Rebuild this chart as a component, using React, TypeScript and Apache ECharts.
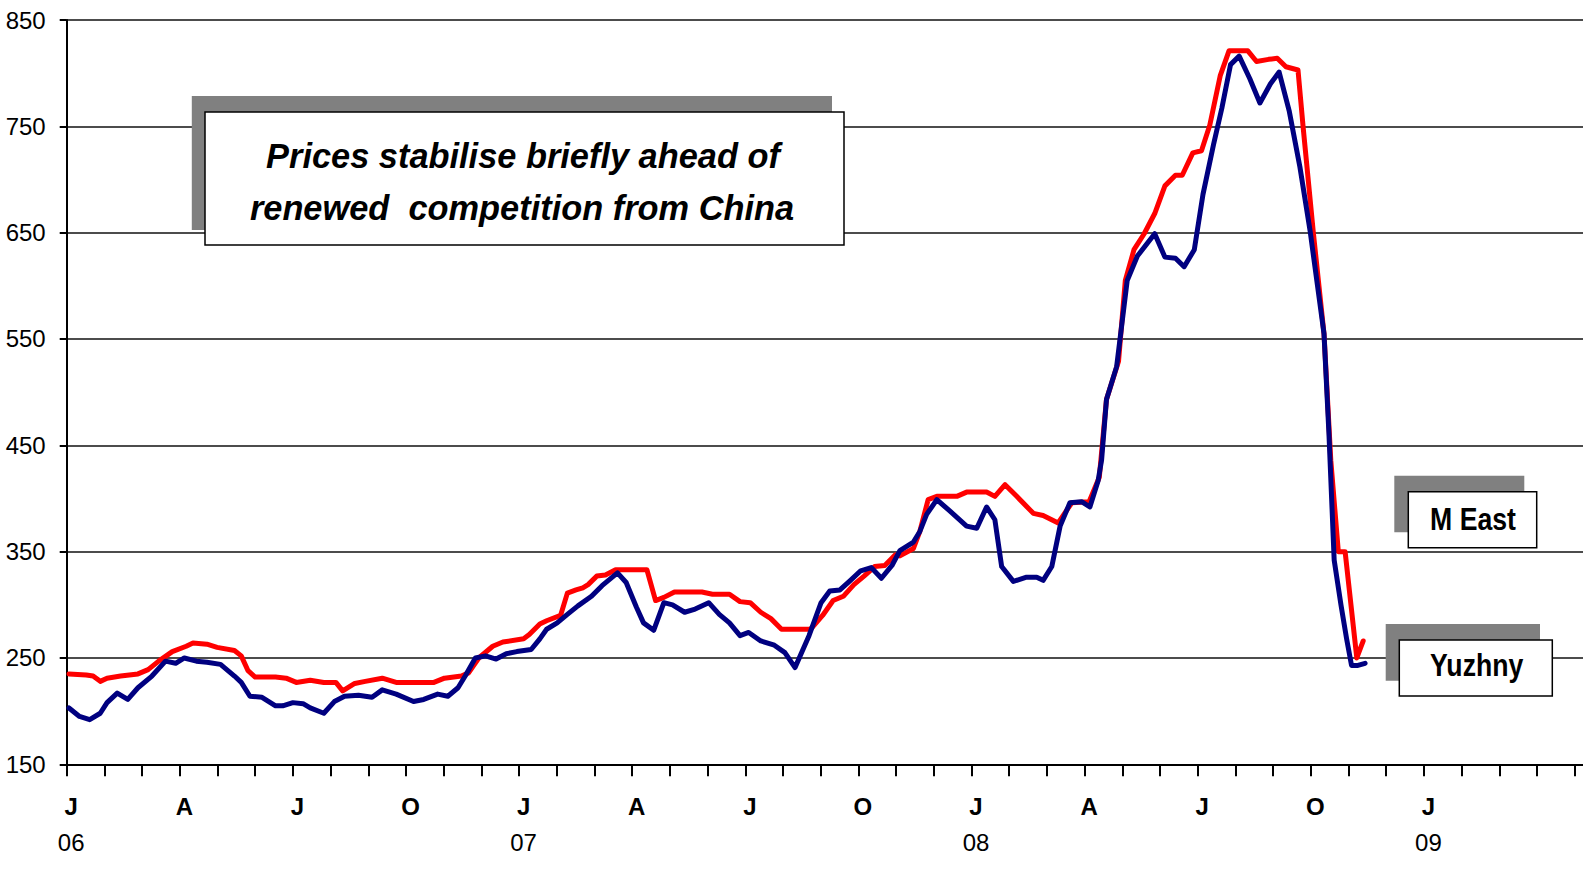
import { useEffect, useRef } from "react";
import * as echarts from "echarts";

// Weekly price readings, time expressed in months elapsed since January 2006
const monthsMEast = [
  0.06, 0.52, 0.7, 0.89, 1.07, 1.43, 1.89, 2.16, 2.44, 2.8, 3.17, 3.35, 3.72, 3.99, 4.45, 4.63, 4.81, 5.0,
  5.54, 5.82, 6.09, 6.46, 6.82, 7.14, 7.32, 7.64, 7.92, 8.37, 8.74, 9.2, 9.74, 10.02, 10.47, 10.66, 10.93,
  11.3, 11.57, 12.12, 12.27, 12.55, 12.73, 13.1, 13.28, 13.51, 13.69, 13.83, 14.06, 14.29, 14.56, 14.93,
  15.39, 15.62, 15.84, 16.12, 16.49, 16.85, 17.13, 17.58, 17.86, 18.13, 18.41, 18.68, 18.96, 19.32, 19.73,
  20.05, 20.33, 20.6, 20.88, 21.15, 21.43, 21.7, 21.98, 22.1, 22.46, 22.63, 22.85, 23.08, 23.61, 23.87,
  24.4, 24.62, 24.89, 25.2, 25.64, 25.9, 26.3, 26.66, 27.12, 27.39, 27.58, 27.9, 28.08, 28.31, 28.58,
  28.86, 29.13, 29.41, 29.59, 29.87, 30.1, 30.32, 30.6, 30.83, 31.33, 31.56, 31.88, 32.11, 32.34, 32.66,
  32.8, 33.07, 33.35, 33.53, 33.73, 33.91, 34.22, 34.39,
];
const pricesMEast = [
  235, 234, 233, 228, 231, 233, 235, 239, 247, 256, 261, 264, 263, 260, 257, 252, 238, 232,
  232, 231, 227, 229, 227, 227, 219, 226, 228, 231, 227, 227, 227, 231, 233, 236, 250,
  261, 265, 268, 272, 282, 285, 290, 311, 314, 316, 319, 327, 328, 333, 333,
  333, 304, 307, 312, 312, 312, 310, 310, 303, 302, 293, 287, 277, 277, 277,
  290, 304, 308, 319, 327, 336, 337, 347, 346, 353, 369, 399, 402, 402, 406,
  406, 402, 413, 402, 386, 384, 377, 396, 397, 420, 493, 529, 605, 634, 649,
  668, 694, 704, 704, 725, 727, 751, 798, 821, 821, 811, 813, 814, 806, 803,
  748, 649, 555, 436, 350, 350, 250, 266,
];

const monthsYuzhny = [
  0.06, 0.34, 0.61, 0.89, 1.07, 1.34, 1.62, 1.89, 2.26, 2.62, 2.89, 3.12, 3.44, 3.72, 4.08, 4.45, 4.63,
  4.86, 5.18, 5.54, 5.73, 6.0, 6.27, 6.46, 6.82, 7.1, 7.37, 7.74, 8.1, 8.37, 8.74, 9.2, 9.47, 9.84, 10.11,
  10.38, 10.57, 10.84, 11.11, 11.39, 11.66, 11.94, 12.32, 12.55, 12.73, 13.01, 13.28, 13.56, 13.92, 14.2,
  14.61, 14.84, 15.11, 15.3, 15.57, 15.84, 16.07, 16.39, 16.67, 17.03, 17.31, 17.58, 17.86, 18.09, 18.41,
  18.77, 19.05, 19.32, 19.69, 20.01, 20.24, 20.51, 20.79, 21.06, 21.34, 21.61, 21.89, 22.1, 22.46, 22.63,
  22.81, 23.08, 23.43, 23.87, 24.14, 24.4, 24.62, 24.8, 25.11, 25.46, 25.73, 25.9, 26.13, 26.35, 26.61,
  26.92, 27.14, 27.36, 27.45, 27.58, 27.85, 28.13, 28.4, 28.86, 29.13, 29.41, 29.64, 29.91, 30.14, 30.42,
  30.64, 30.87, 31.1, 31.38, 31.65, 31.93, 32.16, 32.43, 32.71, 32.98, 33.35, 33.48, 33.62, 33.8, 33.95,
  34.08, 34.25, 34.44,
];
const pricesYuzhny = [
  203, 195, 192, 198, 208, 217, 211, 222, 233, 247, 245, 250, 247, 246, 244, 233, 227,
  214, 213, 205, 205, 208, 207, 203, 198, 209, 214, 215, 213, 220, 216, 209, 211, 216, 214,
  222, 233, 250, 252, 249, 254, 256, 258, 268, 277, 283, 291, 299, 308, 318,
  330, 321, 298, 283, 276, 302, 300, 293, 296, 302, 291, 283, 271, 274, 266,
  262, 255, 241, 271, 302, 313, 314, 323, 332, 335, 325, 337, 351, 359, 369,
  385, 399, 388, 374, 372, 392, 380, 336, 322, 326, 326, 323, 336, 374, 396,
  397, 392, 417, 436, 493, 524, 605, 628, 649, 627, 626, 618, 634, 686, 733,
  767, 808, 816, 795, 772, 790, 801, 764, 712, 652, 555, 462, 342, 300, 268,
  243, 243, 245,
];

const priceTicks = [150, 250, 350, 450, 550, 650, 750, 850];
const quarterLetters = ["J", "A", "J", "O"];
const yearLabels = ["06", "07", "08", "09"];
const monthTicks = Array.from({ length: 41 }, (_, i) => i);
const quarterTicks = Array.from({ length: 13 }, (_, i) => i * 3);

const titleLines = ["Prices stabilise briefly ahead of", "renewed  competition from China"];
const seriesNames = ["M East", "Yuzhny"];

const FONT = "'Liberation Sans', Arial, Helvetica, sans-serif";

export default function App() {
  const ref = useRef<HTMLDivElement>(null);

  useEffect(() => {
    if (!ref.current) return;
    const chart = echarts.init(ref.current, undefined, { renderer: "svg" });

    // Series tag: grey offset shadow, white framed box, label text
    const tagBox = (
      shadow: [number, number, number, number],
      box: [number, number, number, number],
      label: string,
      cx: number,
      cy: number
    ) => [
      {
        type: "rect",
        shape: { x: shadow[0], y: shadow[1], width: shadow[2], height: shadow[3] },
        style: { fill: "#808080" },
        z: 10,
      },
      {
        type: "rect",
        shape: { x: box[0], y: box[1], width: box[2], height: box[3] },
        style: { fill: "#ffffff", stroke: "#000000", lineWidth: 1.5 },
        z: 11,
      },
      {
        type: "text",
        x: cx,
        y: cy,
        scaleX: 0.86,
        z: 12,
        style: {
          text: label,
          fill: "#000000",
          font: `bold 31px ${FONT}`,
          textAlign: "center",
          textVerticalAlign: "middle",
        },
      },
    ];

    chart.setOption({
      animation: false,
      backgroundColor: "#ffffff",
      grid: { left: 66.7, top: 20, right: 0, bottom: 106.7, containLabel: false },
      xAxis: {
        type: "value",
        min: 0,
        max: 40.22,
        axisLine: { show: true, onZero: false, lineStyle: { color: "#000000", width: 2 } },
        axisTick: {
          show: true,
          length: 12,
          inside: false,
          customValues: monthTicks,
          lineStyle: { color: "#000000", width: 2 },
        },
        splitLine: { show: false },
        axisLabel: {
          show: true,
          customValues: quarterTicks,
          margin: 24.4,
          padding: [0, 0, 0, 9],
          formatter: (v: number) => {
            const q = Math.round(v / 3);
            const letter = quarterLetters[q % 4];
            if (q % 4 === 0) return `{m|${letter}}\n{y|${yearLabels[q / 4]}}`;
            return `{m|${letter}}`;
          },
          rich: {
            m: { fontFamily: FONT, fontSize: 24, fontWeight: "bold", color: "#000000", lineHeight: 36 },
            y: { fontFamily: FONT, fontSize: 24, color: "#000000", lineHeight: 36 },
          },
        },
      },
      yAxis: {
        type: "value",
        min: 150,
        max: 850,
        axisLine: { show: true, onZero: false, lineStyle: { color: "#000000", width: 2 } },
        axisTick: {
          show: true,
          length: 7,
          inside: false,
          customValues: priceTicks,
          lineStyle: { color: "#000000", width: 2 },
        },
        axisLabel: {
          show: true,
          customValues: priceTicks,
          margin: 21,
          fontFamily: FONT,
          fontSize: 24,
          color: "#000000",
        },
        splitLine: { show: true, lineStyle: { color: "#111111", width: 1.6 } },
      },
      series: [
        {
          name: seriesNames[0],
          type: "line",
          data: monthsMEast.map((m, i) => [m, pricesMEast[i]]),
          showSymbol: false,
          symbol: "none",
          smooth: false,
          lineStyle: { color: "#ff0000", width: 5, join: "round", cap: "round" },
          z: 3,
        },
        {
          name: seriesNames[1],
          type: "line",
          data: monthsYuzhny.map((m, i) => [m, pricesYuzhny[i]]),
          showSymbol: false,
          symbol: "none",
          smooth: false,
          lineStyle: { color: "#000080", width: 5, join: "round", cap: "round" },
          z: 4,
        },
      ],
      graphic: [
        {
          type: "rect",
          shape: { x: 191.8, y: 95.9, width: 640.2, height: 134 },
          style: { fill: "#808080" },
          z: 10,
        },
        {
          type: "rect",
          shape: { x: 205, y: 112, width: 639, height: 133 },
          style: { fill: "#ffffff", stroke: "#000000", lineWidth: 1.5 },
          z: 11,
        },
        {
          type: "text",
          x: 523,
          y: 155.2,
          scaleX: 0.955,
          z: 12,
          style: {
            text: titleLines[0],
            fill: "#000000",
            font: `italic bold 36px ${FONT}`,
            textAlign: "center",
            textVerticalAlign: "middle",
          },
        },
        {
          type: "text",
          x: 522,
          y: 206.8,
          scaleX: 0.955,
          z: 12,
          style: {
            text: titleLines[1],
            fill: "#000000",
            font: `italic bold 36px ${FONT}`,
            textAlign: "center",
            textVerticalAlign: "middle",
          },
        },
        ...tagBox([1394.3, 475.7, 130, 56.6], [1408.3, 491.7, 128.4, 56], seriesNames[0], 1473, 519.3),
        ...tagBox([1385.7, 624, 154.3, 56.7], [1399.3, 640, 153, 56], seriesNames[1], 1476.7, 665.3),
      ],
    });

    return () => chart.dispose();
  }, []);

  return (
    <div
      ref={ref}
      style={{ position: "fixed", left: 0, top: 0, width: 1583, height: 871, background: "#ffffff" }}
    />
  );
}
